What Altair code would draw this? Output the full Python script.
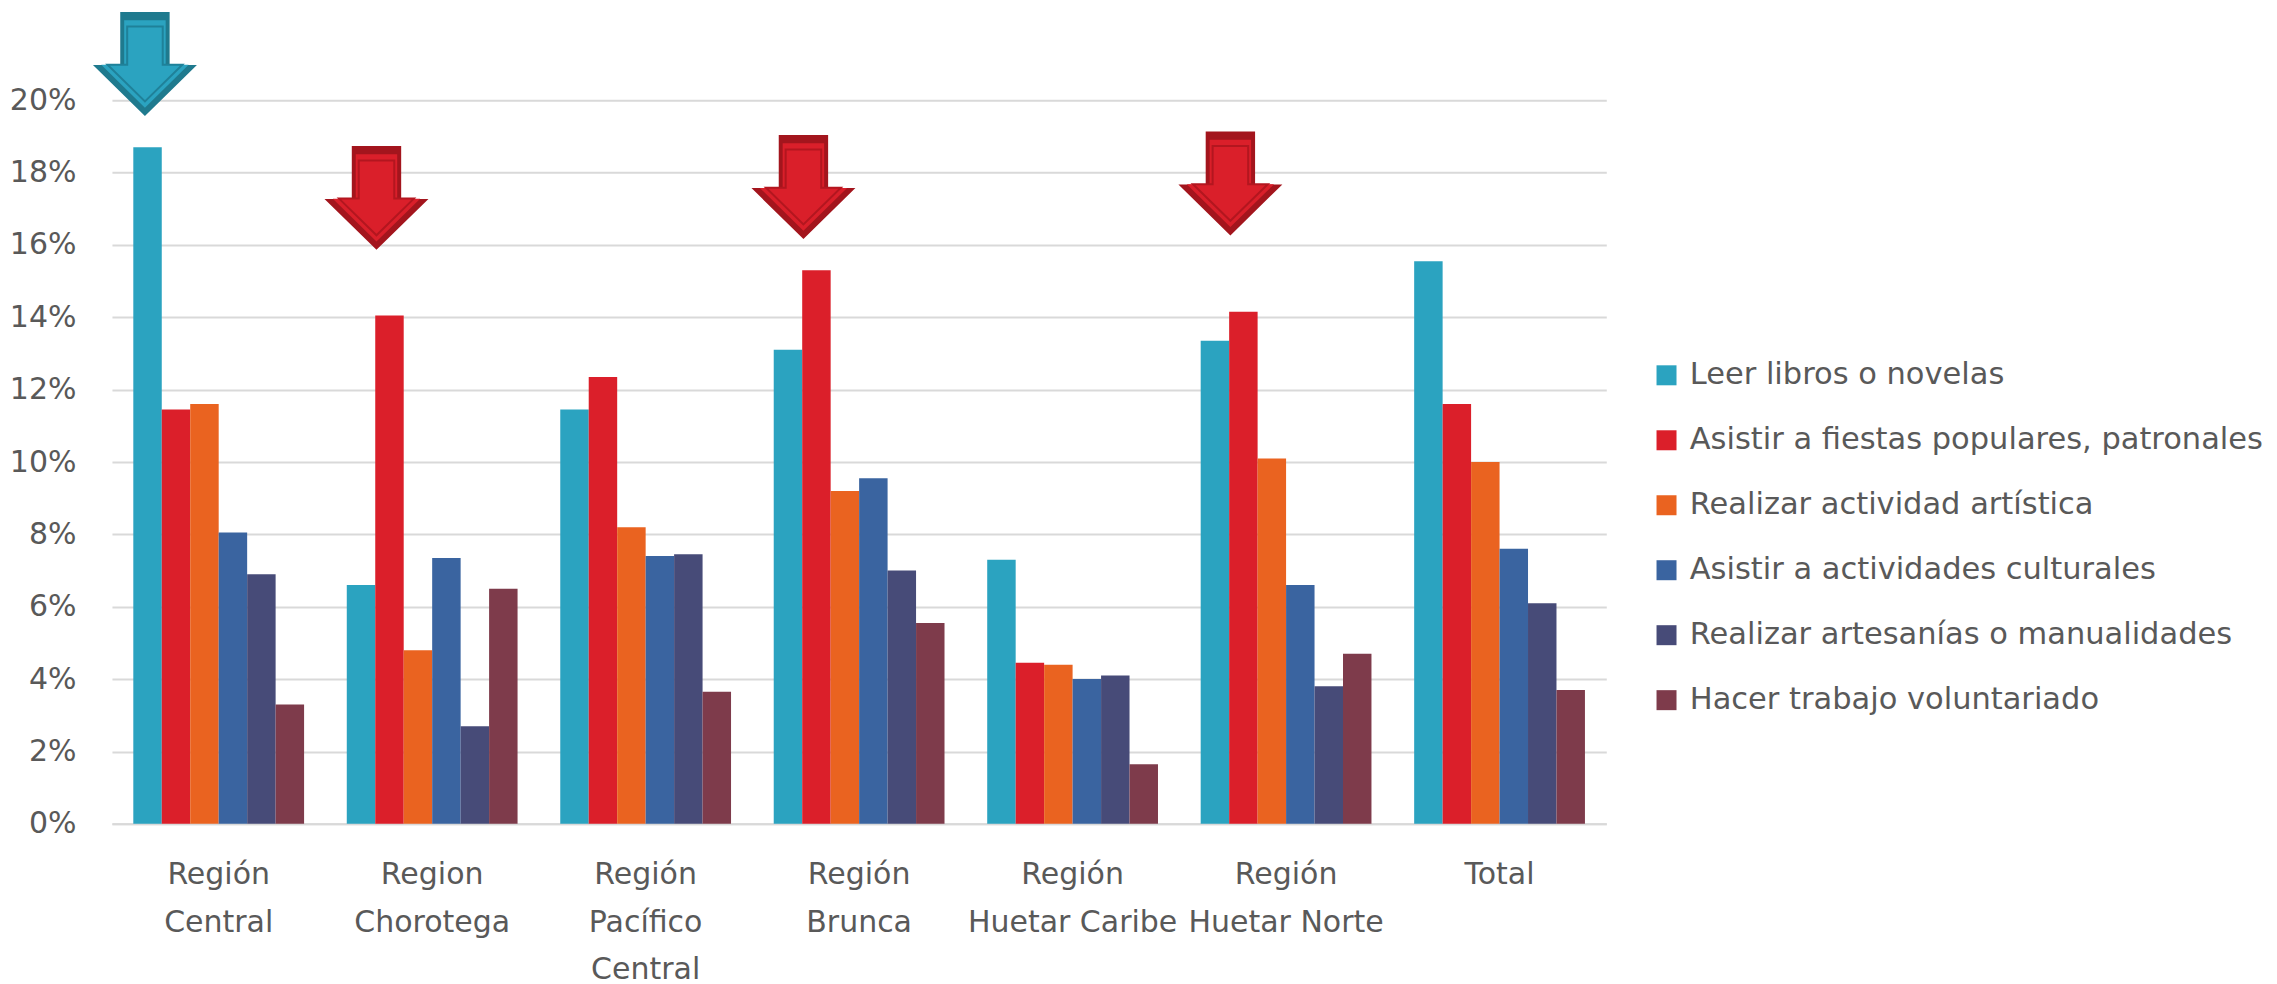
import altair as alt
import pandas as pd

categories = ["Región|Central", "Region|Chorotega", "Región|Pacífico|Central", "Región|Brunca",
              "Región|Huetar Caribe", "Región|Huetar Norte", "Total"]
series = ["Leer libros o novelas", "Asistir a fiestas populares, patronales",
          "Realizar actividad artística", "Asistir a actividades culturales",
          "Realizar artesanías o manualidades", "Hacer trabajo voluntariado"]
colors = ["#2ba3c0", "#db1f2a", "#ea6320", "#3a64a0", "#474b78", "#7e3b4b"]

leer = [18.7, 6.6, 11.45, 13.1, 7.3, 13.35, 15.55]
fiestas = [11.45, 14.05, 12.35, 15.3, 4.45, 14.15, 11.6]
artistica = [11.6, 4.8, 8.2, 9.2, 4.4, 10.1, 10.0]
culturales = [8.05, 7.35, 7.4, 9.55, 4.0, 6.6, 7.6]
artesanias = [6.9, 2.7, 7.45, 7.0, 4.1, 3.8, 6.1]
voluntariado = [3.3, 6.5, 3.65, 5.55, 1.65, 4.7, 3.7]
y_ticks = [0, 2, 4, 6, 8, 10, 12, 14, 16, 18, 20]

# highlight arrows (decoration): which bar they point at and their level
arrow_categories = ["Región|Central", "Region|Chorotega", "Región|Brunca", "Región|Huetar Norte"]
arrow_series = [series[0], series[1], series[1], series[1]]
arrow_levels = [21.0, 17.3, 17.6, 17.7]
arrow_kinds = ["azul", "rojo", "rojo", "rojo"]

values = [leer, fiestas, artistica, culturales, artesanias, voluntariado]
rows = []
for s, vals in zip(series, values):
    for c, v in zip(categories, vals):
        rows.append({"region": c, "serie": s, "valor": v})
df = pd.DataFrame(rows)

arrows_df = pd.DataFrame({"region": arrow_categories, "serie": arrow_series,
                          "valor": arrow_levels, "tipo": arrow_kinds})

FONT = "DejaVu Sans"
FS = 30
GREY = "#595959"

x_enc = alt.X("region:N", scale=alt.Scale(domain=categories, paddingInner=0.2, paddingOuter=0.1),
              axis=alt.Axis(title=None, labelExpr="split(datum.label, '|')", labelAngle=0,
                            labelFontSize=FS, labelFont=FONT, labelColor=GREY, labelLineHeight=47.5,
                            labelPadding=36, labelLimit=0, ticks=False, domain=True,
                            domainColor="#d9d9d9", domainWidth=2, labelBaseline="top", grid=False))
xoff_enc = alt.XOffset("serie:N", scale=alt.Scale(domain=series, paddingInner=0, paddingOuter=0))
y_enc = alt.Y("valor:Q", scale=alt.Scale(domain=[0, 20], nice=False, zero=True),
              axis=alt.Axis(title=None, values=y_ticks, labelExpr="datum.value + '%'",
                            labelFontSize=FS, labelFont=FONT, labelColor=GREY, labelPadding=36,
                            ticks=False, domain=False, grid=True, gridColor="#d9d9d9", gridWidth=2))

bars = alt.Chart(df).mark_bar().encode(
    x=x_enc,
    xOffset=xoff_enc,
    y=y_enc,
    color=alt.Color("serie:N", scale=alt.Scale(domain=series, range=colors),
                    legend=alt.Legend(title=None)),
)


def arrow_path(shift):
    pts = [(-0.475, -1), (0.475, -1), (0.475, 0.02), (1, 0.02), (0, 1), (-1, 0.02), (-0.475, 0.02)]
    return "M" + " L".join(f"{x + shift:.3f},{y:.3f}" for x, y in pts) + " Z"


W = 104


def arrow_layers(kind, dark, bright, line, shift):
    base = alt.Chart(arrows_df).transform_filter(alt.datum.tipo == kind)
    enc = dict(x=x_enc, xOffset=xoff_enc, y=y_enc)
    outer = base.mark_point(shape=arrow_path(shift), size=W * W, filled=True, fill=dark,
                            opacity=1, strokeWidth=0).encode(**enc)
    mid = base.mark_point(shape=arrow_path(shift / 0.84), size=(W * 0.84) ** 2, filled=True,
                          fill=bright, opacity=1, strokeWidth=0).encode(**enc)
    inner = base.mark_point(shape=arrow_path(shift / 0.72), size=(W * 0.72) ** 2, filled=False,
                            stroke=line, strokeWidth=2, opacity=1).encode(**enc)
    return [outer, mid, inner]


layers = [bars]
layers += arrow_layers("azul", "#1f7a8e", "#2ba3c0", "#1f8199", -0.05)
layers += arrow_layers("rojo", "#a3151d", "#da1f2a", "#b3161f", -0.25)

chart = alt.layer(*layers).properties(
    width=1495, height=724,
    padding={"top": 3, "left": 1, "right": 5, "bottom": 0},
).configure_view(stroke=None).configure_legend(
    orient="none", legendX=1540, legendY=260, symbolType="square", symbolSize=400,
    symbolStrokeWidth=0, symbolOpacity=1, labelFontSize=30.5, labelFont=FONT, labelColor=GREY,
    labelLimit=0, rowPadding=34, labelOffset=8,
)

chart.save("out.html", embed_options={"renderer": "svg", "actions": False})
